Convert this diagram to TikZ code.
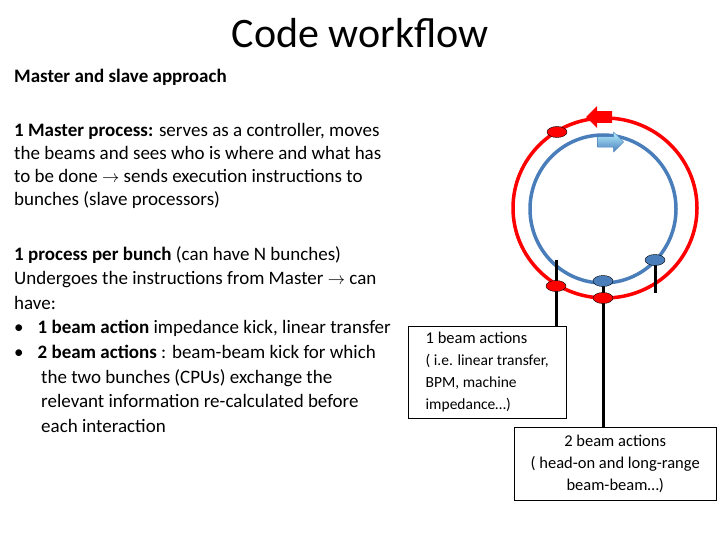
\documentclass[tikz,border=0pt]{standalone}
\usepackage{fontspec}
\setmainfont{Carlito}
\usetikzlibrary{shapes.arrows}
\tikzstyle{txt}=[anchor = north west, align = left, inner sep = 0pt, font = \fontsize{19}{23.2}\selectfont]
\tikzstyle{bunchRed}=[shape = ellipse, minimum width = 20pt, minimum height = 11pt, inner sep = 0pt, draw, fill = red]
\tikzstyle{bunchBlue}=[shape = ellipse, minimum width = 20pt, minimum height = 11pt, inner sep = 0pt, draw, fill = ringBlue]
\tikzstyle{infoBox}=[draw, fill = white, align = center, inner sep = 3pt, font = \fontsize{16.5}{22}\selectfont]
\usetikzlibrary{shapes.geometric}
\definecolor{ringBlue}{RGB}{74,126,187}
\begin{document}
\begin{tikzpicture}[x = 1pt, y = -1pt]
\useasboundingbox (0,0) rectangle (720,540);
\node[font = \fontsize{42}{44}\selectfont] (title) at (360,33) {Code workflow};
\node[txt, font = \bfseries\fontsize{19}{23.2}\selectfont] (approach) at (14,69) {Master and slave approach};
\node[txt] (master) at (14,123) {\textbf{1 Master process:} serves as a controller, moves\\the beams and sees who is where and what has\\to be done $\rightarrow$ sends execution instructions to\\bunches (slave processors)};
\node[txt, font = \fontsize{19}{24.6}\selectfont] (bunch) at (14,246) {\textbf{1 process per bunch} (can have N bunches)\\Undergoes the instructions from Master $\rightarrow$ can\\have:\\\textbullet\hspace{14pt}\textbf{1 beam action} impedance kick, linear transfer\\\textbullet\hspace{14pt}\textbf{2 beam actions} : beam-beam kick for which\\\hspace{27pt}the two bunches (CPUs) exchange the\\\hspace{27pt}relevant information re-calculated before\\\hspace{27pt}each interaction};
% rings
\draw[red, line width = 3.5pt] (605,208) ellipse (92 and 90);
\draw[ringBlue, line width = 3.5pt] (603,209) ellipse (73 and 74);
\node[single arrow, fill = red, minimum height = 26pt, minimum width = 22pt, single arrow head extend = 2pt, shape border rotate = 180, inner sep = 2pt] (redArrow) at (602,117) {};
\node[single arrow, top color = blue!20!cyan!30, bottom color = ringBlue, draw = ringBlue, minimum height = 26pt, minimum width = 20pt, single arrow head extend = 2pt, inner sep = 2pt] (blueArrow) at (608,142) {};
% info boxes
\node[infoBox, align = left, minimum width = 158pt, minimum height = 92pt, anchor = north west] (one) at (408,326) {1 beam actions\\{\fontsize{15.5}{22}\selectfont ( i.e. linear transfer,}\\{\fontsize{15.5}{22}\selectfont BPM, machine}\\{\fontsize{15.5}{22}\selectfont impedance\dots)}};
\node[infoBox, minimum width = 202pt, minimum height = 73pt, anchor = north west] (two) at (514,427) {2 beam actions\\( head-on and long-range\\beam-beam\dots)};
% sticks
\coordinate (s1) at (556,260);
\coordinate (s2) at (603,281);
\coordinate (s3) at (655,260);
\coordinate (s3e) at (655,293);
\draw[line width = 3pt] (s1) -- (one.north -| s1);
\draw[line width = 3pt] (s2) -- (two.north -| s2);
\draw[line width = 3pt] (s3) -- (s3e);
% bunches
\node[bunchRed] (r1) at (557,132) {};
\node[bunchRed] (r2) at (556,286) {};
\node[bunchRed] (r3) at (603,298) {};
\node[bunchBlue] (b1) at (603,281) {};
\node[bunchBlue] (b2) at (655,260) {};
\end{tikzpicture}
\end{document}
